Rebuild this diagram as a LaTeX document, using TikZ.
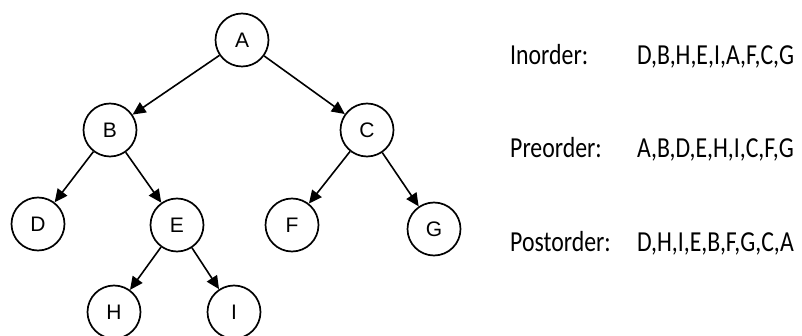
\documentclass[tikz,border=0pt]{standalone}
\usepackage{fontspec}
\setmainfont[FakeStretch=0.82]{Carlito}
\newfontfamily\nodefont{Liberation Sans}
\usetikzlibrary{arrows.meta}

\tikzset{
  treenode/.style={circle, draw, line width=1.7pt, minimum size=53pt, inner sep=0pt,
    font=\nodefont\fontsize{21}{23}\selectfont},
  treearrow/.style={line width=1.6pt, -{Triangle[length=13pt,width=12pt]}},
  listtext/.style={anchor=base west, inner sep=0pt, font=\fontsize{29}{32}\selectfont}
}

\begin{document}
\begin{tikzpicture}[x=1pt,y=1pt,yscale=-1,xscale=1]
\path[use as bounding box] (0,0) rectangle (802,336);

%Shape: tree nodes
\node[treenode] (A) at (242,40) {A};
\node[treenode] (B) at (110,130) {B};
\node[treenode] (C) at (367,130) {C};
\node[treenode] (D) at (38,224) {D};
\node[treenode] (E) at (177,225) {E};
\node[treenode] (F) at (292,225) {F};
\node[treenode] (G) at (434,229) {G};
\node[treenode] (H) at (114,312) {H};
\node[treenode] (I) at (234,312) {I};

%Straight Lines
\draw[treearrow] (A) -- (B);
\draw[treearrow] (A) -- (C);
\draw[treearrow] (B) -- (D);
\draw[treearrow] (B) -- (E);
\draw[treearrow] (C) -- (F);
\draw[treearrow] (C) -- (G);
\draw[treearrow] (E) -- (H);
\draw[treearrow] (E) -- (I);

% Text Node
\node[listtext] (inlabel) at (510,65) {Inorder:};
\node[listtext] (inlist) at (637,65) {D,B,H,E,I,A,F,C,G};
% Text Node
\node[listtext] (prelabel) at (510,158) {Preorder:};
\node[listtext] (prelist) at (637,158) {A,B,D,E,H,I,C,F,G};
% Text Node
\node[listtext] (postlabel) at (510,252) {Postorder:};
\node[listtext] (postlist) at (637,252) {D,H,I,E,B,F,G,C,A};

\end{tikzpicture}
\end{document}
